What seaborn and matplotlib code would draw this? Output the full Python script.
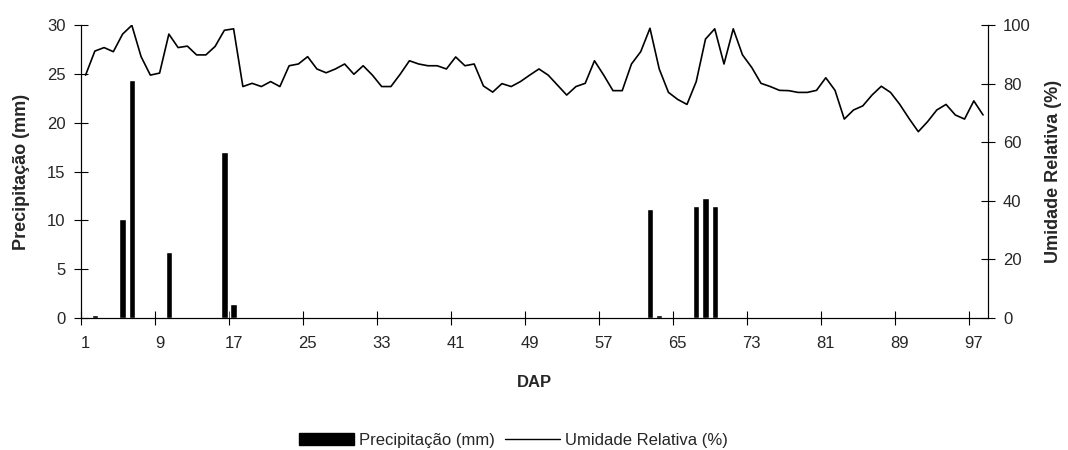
import numpy as np
import seaborn as sns
import matplotlib.pyplot as plt
from matplotlib.patches import Patch
from matplotlib.lines import Line2D

# Days after planting (DAP) and relative humidity (%)
days = list(range(1, 99))
umidade = [82.9, 91.1, 92.3, 90.9, 96.9, 99.9, 89.2, 82.9, 83.6, 96.9,
           92.3, 92.8, 89.8, 89.8, 92.7, 98.2, 98.7, 79.0, 80.1, 79.0,
           80.7, 79.0, 86.1, 86.7, 89.2, 85.0, 83.7, 85.0, 86.7, 83.2,
           86.1, 82.9, 79.0, 79.0, 83.2, 87.8, 86.7, 86.1, 86.1, 85.0,
           89.1, 86.1, 86.7, 79.2, 77.1, 80.0, 79.0, 80.7, 82.9, 85.0,
           82.9, 79.5, 76.1, 79.0, 80.1, 87.8, 82.9, 77.6, 77.6, 86.7,
           90.9, 98.9, 85.0, 77.0, 74.6, 72.9, 80.7, 95.2, 98.7, 86.7,
           98.7, 89.8, 85.5, 80.1, 79.0, 77.7, 77.6, 77.0, 77.0, 77.7,
           82.0, 77.7, 67.9, 71.0, 72.4, 76.1, 79.1, 77.0, 72.9, 68.1,
           63.6, 67.0, 71.0, 72.9, 69.3, 67.9, 74.1, 69.3]

# Rain events (mm)
chuva_dias = [2, 5, 6, 10, 16, 17, 62, 63, 67, 68, 69, 70]
chuva_mm = [0.3, 10.1, 24.4, 6.8, 17.0, 1.4, 11.2, 0.3, 11.5, 12.3, 11.5, 0.15]

label_days = list(range(1, 98, 8))

sns.set_style('white')
plt.rcParams['font.family'] = ['Liberation Sans', 'DejaVu Sans']

fig = plt.figure(figsize=(10.68, 4.5), dpi=100)
ax = fig.add_axes([0.0758, 0.2933, 0.8490, 0.6511])
ax2 = ax.twinx()

sns.barplot(x=chuva_dias, y=chuva_mm, native_scale=True, width=0.7,
            color='black', saturation=1, ax=ax)
sns.lineplot(x=days, y=umidade, color='black', lw=1.2, ax=ax2)

ax.set_xlim(0.5, 98.5)
ax.set_ylim(0, 30)
ax2.set_ylim(0, 100)
ax.set_yticks(range(0, 31, 5))
ax2.set_yticks(range(0, 101, 20))

# labels centred on categories, tick marks between them
ax.set_xticks(label_days)
ax.set_xticklabels([str(d) for d in label_days])
ax.set_xticks(np.arange(0.5, 97, 8), minor=True)
ax.tick_params(axis='x', which='major', length=0, pad=13, labelsize=12)
ax.tick_params(axis='x', which='minor', direction='inout', length=10, width=0.8, color='black', bottom=True)
ax.tick_params(axis='y', direction='inout', length=10, width=0.8, color='black', left=True, pad=6, labelsize=12)
ax2.tick_params(axis='y', direction='inout', length=10, width=0.8, color='black', right=True, pad=6, labelsize=12)

for a in (ax, ax2):
    a.spines['top'].set_visible(False)
    for s in ('left', 'right', 'bottom'):
        a.spines[s].set_color('black')
        a.spines[s].set_linewidth(0.8)

ax.set_xlabel('DAP', fontsize=12, fontweight='bold', labelpad=17)
ax.set_ylabel('Precipitação (mm)', fontsize=13, fontweight='bold', labelpad=12)
ax2.set_ylabel('Umidade Relativa (%)', fontsize=13, fontweight='bold', labelpad=10)

handles = [Patch(facecolor='black', edgecolor='black'),
           Line2D([], [], color='black', lw=1)]
fig.legend(handles, ['Precipitação (mm)', 'Umidade Relativa (%)'],
           loc='center', bbox_to_anchor=(0.481, 0.022), ncol=2, frameon=False,
           fontsize=12, handlelength=3.3, handletextpad=0.3, columnspacing=0.6)

fig.savefig('out.png', dpi=100)
